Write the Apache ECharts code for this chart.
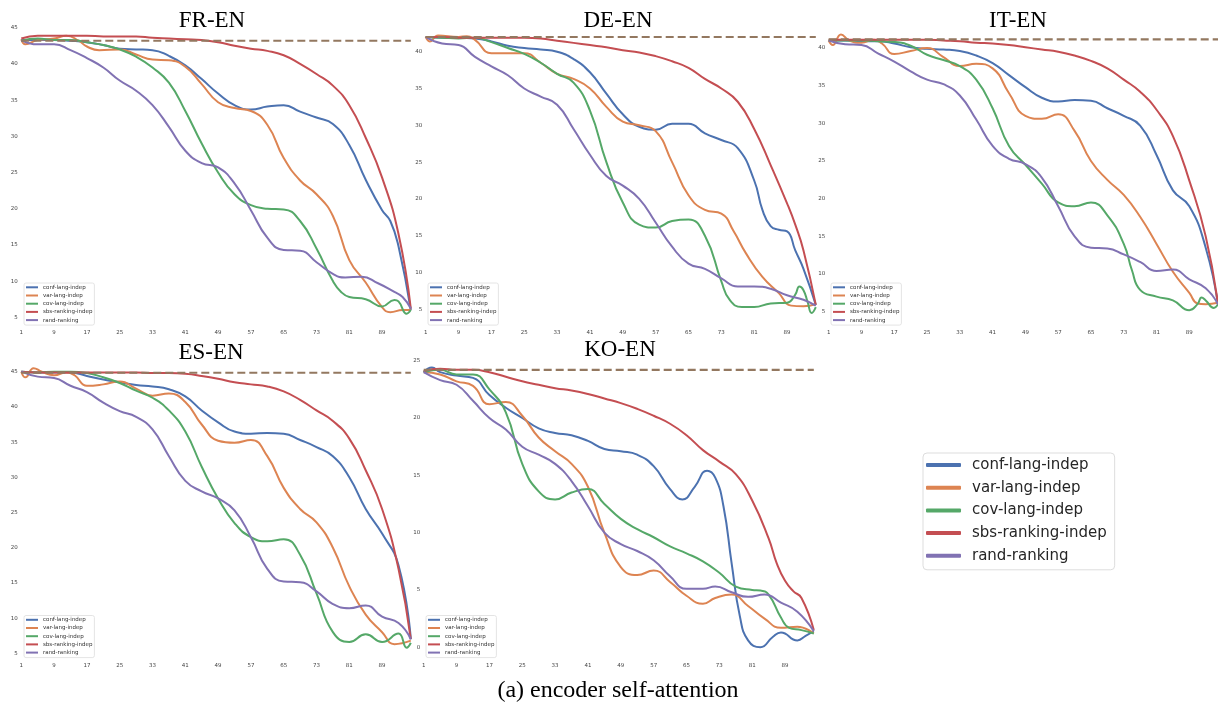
<!DOCTYPE html>
<html><head><meta charset="utf-8">
<script src="https://cdn.jsdelivr.net/npm/echarts@6/dist/echarts.min.js"></script>
<style>html,body{margin:0;padding:0;background:#fff}#c{width:1218px;height:706px}</style>
</head><body><div id="c"></div><script>
// ---------------- DATA ----------------
const categories = [1,2,3,4,5,6,7,8,9,10,11,12,13,14,15,16,17,18,19,20,21,22,23,24,25,26,27,28,29,30,31,32,33,34,35,36,37,38,39,40,41,42,43,44,45,46,47,48,49,50,51,52,53,54,55,56,57,58,59,60,61,62,63,64,65,66,67,68,69,70,71,72,73,74,75,76,77,78,79,80,81,82,83,84,85,86,87,88,89,90,91,92,93,94,95,96];
const xTickLabels = [1,9,17,25,33,41,49,57,65,73,81,89];
const methodNames = ['conf-lang-indep','var-lang-indep','cov-lang-indep','sbs-ranking-indep','rand-ranking'];
const panelTitles = ['FR-EN','DE-EN','IT-EN','ES-EN','KO-EN'];
const caption = '(a) encoder self-attention';

const frYTicks = [5,10,15,20,25,30,35,40,45];
const deYTicks = [5,10,15,20,25,30,35,40];
const itYTicks = [5,10,15,20,25,30,35,40];
const esYTicks = [5,10,15,20,25,30,35,40,45];
const koYTicks = [0,5,10,15,20,25];

const baselineValues = [43.2, 42.0, 41.15, 44.85, 24.2];

// FR-EN
const frConf = [[1,43.3],[5,43.3],[9,43.3],[13,43.2],[17,43.0],[21,42.6],[25,42.1],[29,42.0],[33,41.9],[37,41.1],[41,39.8],[45,37.9],[49,35.9],[53,34.3],[57,33.7],[61,34.1],[65,34.3],[69,33.4],[73,32.6],[77,31.7],[81,28.8],[85,24.0],[89,19.8],[91,18.3],[93,14.8],[96,6.0]];
const frVar  = [[1,43.4],[2,42.7],[5,43.3],[9,43.5],[12,43.9],[15,43.2],[17,42.4],[20,41.9],[25,42.0],[29,41.3],[33,40.6],[37,40.5],[41,39.6],[45,37.2],[49,34.7],[53,33.9],[57,33.5],[61,31.6],[65,27.0],[69,23.9],[73,22.0],[77,19.0],[81,12.9],[85,9.8],[89,6.4],[91,5.7],[94,6.0],[96,6.0]];
const frCov  = [[1,43.2],[5,43.5],[9,43.3],[13,43.3],[17,43.0],[21,42.6],[25,42.0],[29,41.0],[33,39.5],[37,37.4],[41,33.5],[45,29.0],[49,25.0],[53,22.0],[57,20.5],[61,20.0],[65,19.9],[69,18.3],[73,14.5],[77,10.0],[79,8.5],[81,7.8],[85,7.5],[89,6.5],[92,7.4],[93,7.2],[95,5.5],[96,6.0]];
const frSbs  = [[1,43.5],[5,43.9],[9,43.9],[13,43.9],[17,43.9],[21,43.8],[25,43.8],[29,43.8],[33,43.6],[37,43.5],[41,43.4],[45,43.3],[49,43.0],[53,42.5],[57,42.1],[61,41.8],[65,41.2],[69,40.0],[73,38.6],[77,37.0],[81,34.3],[85,29.8],[89,24.3],[93,16.5],[96,6.2]];
const frRand = [[1,43.3],[5,42.7],[9,42.7],[13,41.9],[17,40.8],[21,39.5],[25,37.7],[29,36.3],[33,34.3],[37,31.3],[41,28.0],[45,26.3],[49,25.7],[53,23.5],[57,19.8],[61,16.0],[65,14.3],[69,14.2],[73,12.6],[77,11.0],[80,10.5],[84,10.6],[88,9.7],[92,8.5],[94,7.8],[96,6.2]];

// DE-EN
const deConf = [[1,42.0],[5,41.9],[9,41.9],[13,41.8],[17,41.4],[21,40.8],[25,40.5],[29,40.3],[33,40.0],[37,39.0],[41,37.2],[45,34.3],[49,31.5],[53,29.8],[57,29.4],[61,30.2],[65,30.2],[69,28.9],[73,28.0],[77,26.9],[81,22.5],[83,18.5],[85,16.3],[87,15.8],[89,15.6],[91,13.0],[93,10.5],[96,5.6]];
const deVar  = [[1,42.0],[2,41.4],[4,42.2],[9,42.0],[11,42.1],[13,41.6],[17,39.8],[21,39.8],[25,39.8],[29,38.5],[33,37.0],[37,36.3],[41,35.0],[45,32.5],[49,30.5],[53,30.0],[57,29.2],[61,25.0],[65,20.5],[69,18.5],[73,18.0],[76,15.6],[79,12.6],[83,9.4],[87,7.2],[90,5.5],[93,5.4],[96,5.7]];
const deCov  = [[1,42.0],[5,41.9],[9,41.8],[13,41.9],[17,41.3],[21,40.5],[25,39.7],[29,38.5],[33,37.0],[37,35.8],[41,32.0],[45,25.0],[49,19.5],[53,16.5],[57,16.1],[61,17.0],[65,17.2],[69,15.0],[73,8.8],[75,6.3],[78,5.3],[81,5.3],[85,5.8],[89,5.9],[91,7.0],[92,8.1],[93,7.6],[94,6.0],[95,4.5],[96,5.3]];
const deSbs  = [[1,42.0],[5,42.0],[9,41.9],[13,41.9],[17,41.9],[21,41.9],[25,41.9],[29,41.8],[33,41.5],[37,41.2],[41,40.9],[45,40.6],[49,40.2],[53,39.9],[57,39.4],[61,38.7],[65,37.8],[69,36.3],[73,35.0],[77,33.2],[81,29.5],[85,24.6],[89,19.4],[91,16.5],[93,13.0],[96,5.6]];
const deRand = [[1,42.0],[5,41.1],[9,40.9],[13,39.3],[17,38.0],[21,36.8],[25,35.0],[29,33.9],[33,32.8],[37,29.5],[41,26.0],[45,23.1],[49,21.8],[53,20.0],[57,16.8],[61,13.5],[65,11.2],[69,10.5],[73,9.2],[77,8.1],[81,8.1],[85,7.8],[89,6.9],[93,6.3],[96,5.5]];

// IT-EN
const itConf = [[1,41.0],[5,41.0],[9,40.9],[13,40.9],[17,40.6],[21,40.1],[25,39.9],[29,39.8],[33,39.6],[37,39.0],[41,38.0],[45,36.4],[49,34.8],[53,33.4],[57,32.9],[61,33.1],[65,33.0],[69,32.0],[73,31.0],[77,29.7],[81,25.8],[85,21.1],[89,19.0],[93,13.5],[96,6.0]];
const itVar  = [[1,41.0],[2,40.4],[4,41.8],[6,41.0],[9,40.7],[12,41.1],[14,40.6],[17,39.2],[21,39.6],[25,40.0],[29,38.8],[33,37.6],[37,37.9],[41,37.3],[45,34.0],[49,31.0],[53,30.6],[57,31.2],[61,29.0],[65,25.0],[69,22.5],[73,20.5],[77,17.6],[81,14.0],[85,10.3],[89,7.5],[91,6.1],[93,6.0],[96,6.2]];
const itCov  = [[1,41.0],[5,41.0],[9,41.0],[13,40.9],[17,40.8],[21,40.3],[25,39.1],[29,38.4],[33,37.6],[37,35.8],[41,32.0],[45,27.0],[49,24.5],[53,22.0],[57,19.5],[61,19.0],[65,19.5],[69,17.8],[73,14.0],[75,10.5],[77,7.9],[81,7.0],[85,6.5],[89,5.2],[91,6.0],[92,6.9],[93,6.5],[95,5.5],[96,6.0]];
const itSbs  = [[1,41.1],[5,41.1],[9,41.1],[13,41.1],[17,41.1],[21,41.1],[25,41.1],[29,41.0],[33,40.9],[37,40.7],[41,40.6],[45,40.4],[49,40.1],[53,39.8],[57,39.5],[61,39.0],[65,38.3],[69,37.3],[73,35.8],[77,34.2],[81,31.8],[85,28.3],[89,22.4],[93,15.0],[96,6.0]];
const itRand = [[1,41.0],[5,40.5],[9,40.4],[13,39.3],[17,38.2],[21,36.9],[25,35.8],[29,35.2],[33,33.7],[37,30.5],[41,27.0],[45,25.3],[49,24.6],[53,22.8],[57,19.0],[61,15.0],[65,13.5],[69,13.4],[73,12.6],[77,11.6],[81,10.4],[85,10.6],[89,9.3],[93,8.1],[96,6.0]];

// ES-EN
const esConf = [[1,45.0],[5,44.9],[9,44.9],[13,44.9],[17,44.4],[21,43.9],[25,43.5],[29,43.1],[33,42.9],[37,42.5],[41,41.5],[45,39.5],[49,37.8],[53,36.5],[57,36.2],[61,36.3],[65,36.2],[69,35.3],[73,34.3],[77,33.0],[81,30.0],[85,25.5],[89,22.0],[93,17.5],[96,7.0]];
const esVar  = [[1,45.0],[2,44.2],[4,45.5],[6,45.0],[9,44.5],[12,44.9],[14,44.5],[17,43.0],[21,43.2],[25,43.6],[29,42.6],[33,41.6],[37,41.9],[41,40.7],[45,37.5],[49,35.2],[53,34.9],[57,35.3],[61,33.0],[65,28.5],[69,25.5],[73,23.6],[77,20.0],[81,14.5],[85,10.5],[89,8.0],[92,6.3],[96,6.8]];
const esCov  = [[1,45.0],[5,44.9],[9,45.0],[13,45.0],[17,44.8],[21,44.2],[25,43.4],[29,42.3],[33,41.3],[37,39.5],[41,36.5],[45,31.5],[49,27.0],[53,23.5],[57,21.5],[61,20.9],[65,21.2],[69,19.0],[73,13.5],[77,8.0],[81,6.6],[85,7.7],[89,6.6],[93,7.8],[95,5.8],[96,6.5]];
const esSbs  = [[1,45.0],[5,44.9],[9,44.9],[13,44.9],[17,44.9],[21,44.9],[25,44.9],[29,44.9],[33,44.8],[37,44.8],[41,44.7],[45,44.4],[49,44.0],[53,43.5],[57,43.2],[61,42.9],[65,42.2],[69,41.0],[73,39.5],[77,38.0],[81,35.5],[85,31.0],[89,25.5],[93,17.0],[96,7.0]];
const esRand = [[1,45.0],[5,44.3],[9,44.1],[13,43.0],[17,42.1],[21,40.6],[25,39.4],[29,38.6],[33,36.8],[37,33.0],[41,29.5],[45,28.0],[49,27.0],[53,25.3],[57,21.5],[61,17.0],[65,15.2],[69,15.1],[73,13.8],[77,12.0],[81,11.4],[85,11.8],[89,10.2],[93,9.3],[96,7.0]];

// KO-EN
const koConf = [[1,24.0],[3,24.4],[5,24.0],[9,23.7],[13,23.5],[17,22.0],[21,20.9],[25,20.0],[29,19.1],[33,18.7],[37,18.5],[41,18.0],[45,17.3],[49,17.1],[53,16.8],[57,15.8],[61,13.8],[64,12.9],[67,14.0],[70,15.4],[72,14.8],[74,12.3],[76,7.3],[78,2.7],[80,0.6],[83,0.0],[86,0.9],[88,1.3],[92,0.6],[94,1.0],[96,1.4]];
const koVar  = [[1,24.0],[5,23.8],[9,23.2],[13,22.8],[17,21.2],[21,21.4],[25,20.2],[29,18.3],[33,17.1],[37,16.0],[41,14.0],[45,10.0],[49,7.0],[53,6.3],[57,6.7],[61,5.7],[65,4.5],[69,3.8],[72,4.3],[76,4.6],[80,3.6],[84,2.5],[88,1.7],[92,1.8],[96,1.2]];
const koCov  = [[1,24.0],[5,24.2],[9,23.8],[13,23.8],[17,22.5],[21,20.5],[25,16.0],[29,13.6],[33,12.9],[37,13.5],[41,13.8],[45,12.5],[49,11.2],[53,10.3],[57,9.6],[61,8.8],[65,8.2],[69,7.5],[73,6.5],[77,5.3],[81,5.0],[83,4.95],[85,4.6],[88,2.6],[90,1.7],[93,1.5],[96,1.2]];
const koSbs  = [[1,24.1],[5,24.3],[9,24.2],[13,24.2],[17,24.0],[21,23.6],[25,23.2],[29,22.9],[33,22.6],[37,22.4],[41,22.1],[45,21.7],[49,21.3],[53,20.8],[57,20.2],[61,19.5],[65,18.5],[69,17.2],[73,16.2],[77,15.1],[81,12.8],[85,9.5],[87,7.3],[89,5.8],[91,4.9],[93,4.3],[96,1.5]];
const koRand = [[1,24.0],[5,23.3],[9,22.9],[13,21.5],[17,20.0],[21,19.0],[25,17.5],[29,16.8],[33,16.0],[37,14.5],[41,12.3],[45,10.0],[49,9.0],[53,8.4],[57,7.6],[61,6.2],[65,5.1],[69,5.1],[72,5.3],[76,4.8],[80,4.4],[84,4.6],[88,3.9],[92,3.1],[96,1.4]];

// ---------------- LAYOUT / STYLE ----------------
const colors = ['#4C72B0','#DD8452','#55A868','#C44E52','#8172B3'];
const baselineColor = '#937860';
const panelSeries = [
  [frConf, frVar, frCov, frSbs, frRand],
  [deConf, deVar, deCov, deSbs, deRand],
  [itConf, itVar, itCov, itSbs, itRand],
  [esConf, esVar, esCov, esSbs, esRand],
  [koConf, koVar, koCov, koSbs, koRand]
];
const panelYTicks = [frYTicks, deYTicks, itYTicks, esYTicks, koYTicks];
const layout = [
  {left:21.3, top:27.7,  width:389.5, height:289.6, xm:12,   tx:212, ty:21,    lg:[24,283]},
  {left:425.7,top:51.7,  width:390.1, height:257.6, xm:20,   tx:618, ty:21,    lg:[428,283]},
  {left:828.7,top:48.0,  width:389.3, height:263.7, xm:18,   tx:1018,ty:21,    lg:[831,283]},
  {left:21.3, top:371.7, width:389.5, height:281.6, xm:9.5,  tx:211, ty:353,   lg:[24,615.5]},
  {left:423.7,top:360.7, width:390.1, height:286.6, xm:15.5, tx:620, ty:349.7, lg:[426,615.5]}
];

const grids = [], xAxes = [], yAxes = [], series = [], legends = [], graphics = [];
const catStr = categories.map(String);
layout.forEach((L, i) => {
  grids.push({left:L.left, top:L.top, width:L.width, height:L.height, containLabel:false, outerBoundsMode:'none'});
  xAxes.push({
    type:'category', gridIndex:i, data:catStr, boundaryGap:false,
    axisLine:{show:false}, axisTick:{show:false}, splitLine:{show:false},
    axisLabel:{interval:(idx, val) => xTickLabels.includes(+val), fontSize:5.5, color:'#444',
      fontFamily:'DejaVu Sans', margin:L.xm}
  });
  const yt = panelYTicks[i];
  yAxes.push({
    type:'value', gridIndex:i, min:yt[0], max:yt[yt.length-1], interval:5,
    axisLine:{show:false}, axisTick:{show:false}, splitLine:{show:false},
    axisLabel:{fontSize:5.5, color:'#444', fontFamily:'DejaVu Sans', margin:3.5}
  });
  panelSeries[i].forEach((arr, k) => {
    series.push({
      name:methodNames[k], type:'line', xAxisIndex:i, yAxisIndex:i,
      data:arr.map(p => [String(p[0]), p[1]]),
      smooth:0.5, symbol:'none', showSymbol:false, clip:false,
      lineStyle:{width:2, color:colors[k]}, itemStyle:{color:colors[k]},
      animation:false, z:2+k
    });
  });
  series.push({
    name:'baseline', type:'line', xAxisIndex:i, yAxisIndex:i,
    data:[[catStr[0], baselineValues[i]], [catStr[catStr.length-1], baselineValues[i]]],
    symbol:'none', clip:false, animation:false, z:10,
    lineStyle:{width:2.2, color:baselineColor, type:[8,4]}
  });
  legends.push({
    data:methodNames, orient:'vertical', left:L.lg[0], top:L.lg[1],
    icon:'rect', itemWidth:12, itemHeight:2, itemGap:2.2,
    padding:[1.3,2,2,2], backgroundColor:'#fff', borderColor:'#dddddd', borderWidth:0.8, borderRadius:2,
    selectedMode:false,
    textStyle:{fontSize:5.5, lineHeight:6, color:'#333', fontFamily:'DejaVu Sans'}
  });
  graphics.push({
    type:'text', x:L.tx, y:L.ty, silent:true,
    style:{text:panelTitles[i], fill:'#000', font:'23px "Liberation Serif", "Times New Roman", serif',
      textAlign:'center', textVerticalAlign:'middle'}
  });
});
legends.push({
  data:methodNames, orient:'vertical', left:923, top:453,
  icon:'roundRect', itemWidth:35, itemHeight:4, itemGap:5.7,
  padding:[3.5,8,5.5,3], backgroundColor:'#fff', borderColor:'#dddddd', borderWidth:1, borderRadius:4,
  selectedMode:false,
  textStyle:{fontSize:15, lineHeight:17, color:'#262626', fontFamily:'DejaVu Sans', padding:[0,0,0,6]}
});
graphics.push({
  type:'text', x:618, y:690.5, silent:true,
  style:{text:caption, fill:'#000', font:'24px "Liberation Serif", "Times New Roman", serif',
    textAlign:'center', textVerticalAlign:'middle'}
});

const chart = echarts.init(document.getElementById('c'), null, {renderer:'canvas'});
chart.setOption({
  backgroundColor:'#fff',
  animation:false,
  grid:grids, xAxis:xAxes, yAxis:yAxes, series:series, legend:legends, graphic:graphics
});
</script></body></html>
